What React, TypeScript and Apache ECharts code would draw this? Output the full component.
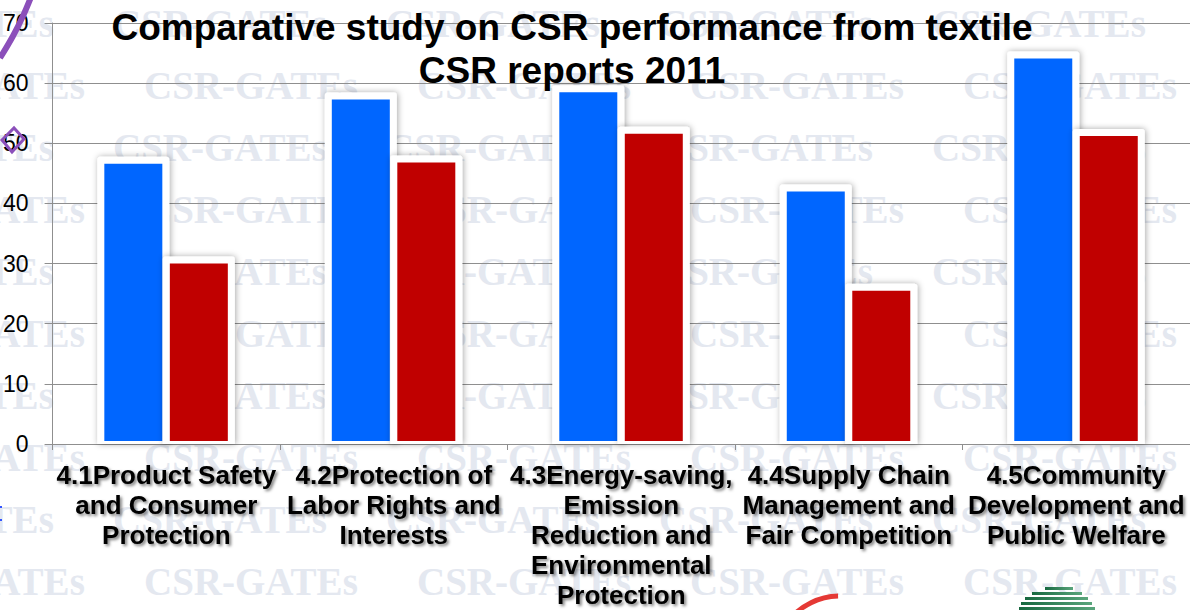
import React, { useEffect, useRef } from "react";
import * as echarts from "echarts";

const categories: string[] = [
  "4.1Product Safety\nand Consumer\nProtection",
  "4.2Protection of\nLabor Rights and\nInterests",
  "4.3Energy-saving,\nEmission\nReduction and\nEnvironmental\nProtection",
  "4.4Supply Chain\nManagement and\nFair Competition",
  "4.5Community\nDevelopment and\nPublic Welfare",
];
const blueValues: number[] = [46.6, 57.3, 58.5, 42.0, 64.1];
const redValues: number[] = [30.0, 46.8, 51.6, 25.5, 51.2];
const yTicks = { min: 0, max: 70, interval: 10 };
const titleText = "Comparative study on CSR performance from textile\nCSR reports 2011";
const watermarkText = "CSR-GATEs";

const SANS = "'Liberation Sans', Arial, sans-serif";
const SERIF = "'Liberation Serif', 'Times New Roman', serif";

function makeRenderItem(offset: number, color: string) {
  return (params: any, api: any) => {
    const idx = api.value(0);
    const val = api.value(1);
    const top = api.coord([idx, val]);
    const base = api.coord([idx, 0]);
    const cx = top[0] + offset;
    const halfW = 29;
    const pad = 7;
    return {
      type: "group",
      children: [
        {
          type: "rect",
          shape: {
            x: cx - halfW - pad,
            y: top[1] - pad,
            width: 2 * (halfW + pad),
            height: base[1] - top[1] + pad,
            r: [3, 3, 0, 0],
          },
          style: {
            fill: "#ffffff",
            shadowBlur: 6,
            shadowColor: "rgba(0,0,0,0.35)",
            shadowOffsetX: 1,
            shadowOffsetY: 0,
          },
        },
        {
          type: "rect",
          shape: {
            x: cx - halfW,
            y: top[1],
            width: 2 * halfW,
            height: base[1] - 3 - top[1],
          },
          style: { fill: color },
        },
      ],
    };
  };
}

function buildWatermark(): any[] {
  const els: any[] = [];
  for (let k = 0; k < 10; k++) {
    const y = 23.5 + 62 * k;
    const startX = k % 2 === 1 ? -129 : -160;
    for (let j = 0; j < 6; j++) {
      els.push({
        type: "text",
        x: startX + 273 * j,
        y,
        z: -10,
        silent: true,
        style: {
          text: watermarkText,
          font: `bold 39px ${SERIF}`,
          fill: "#e4e8f0",
          textAlign: "left",
          textVerticalAlign: "middle",
        },
      });
    }
  }
  return els;
}

function buildDecor(): any[] {
  const els: any[] = [];
  // purple curve at top-left
  els.push({
    type: "polyline",
    z: 20,
    shape: { points: [[31, -3], [23, 16], [13, 36], [0, 58]], smooth: 0.4 },
    style: { stroke: "#8b4fba", lineWidth: 6, fill: "none" },
  });
  // purple diamond
  els.push({
    type: "polygon",
    z: 1,
    shape: { points: [[2, 140], [14, 128], [24, 139], [12, 152]] },
    style: { stroke: "#8b4fba", lineWidth: 3, fill: "none" },
  });
  // blue dots
  els.push({ type: "rect", z: 1, shape: { x: 0, y: 506, width: 2, height: 2 }, style: { fill: "#3355ff" } });
  els.push({ type: "rect", z: 1, shape: { x: 0, y: 519, width: 2, height: 2 }, style: { fill: "#3355ff" } });
  // red arc logo
  els.push({
    type: "arc",
    z: 1,
    shape: { cx: 840, cy: 662, r: 66, startAngle: -2.45, endAngle: -1.6, clockwise: true },
    style: { stroke: "#e53935", lineWidth: 5, fill: "none" },
  });
  // green striped logo
  const stripes = [
    [1045, 587, 28],
    [1032, 592, 50],
    [1025, 597, 63],
    [1021, 602, 71],
    [1019, 607, 76],
  ];
  stripes.forEach(([x, y, w]) => {
    els.push({
      type: "rect",
      z: 1,
      shape: { x, y, width: w, height: 3 },
      style: {
        fill: new echarts.graphic.LinearGradient(0, 0, 1, 0, [
          { offset: 0, color: "#17683f" },
          { offset: 1, color: "#5aa57c" },
        ]),
      },
    });
  });
  return els;
}

export default function App() {
  const ref = useRef<HTMLDivElement>(null);
  useEffect(() => {
    if (!ref.current) return;
    const chart = echarts.init(ref.current, undefined, { renderer: "svg" });
    const option: any = {
      animation: false,
      backgroundColor: "#ffffff",
      title: {
        text: titleText,
        left: 567,
        top: 1,
        textAlign: "center",
        textStyle: {
          fontFamily: SANS,
          fontSize: 37,
          fontWeight: "bold",
          color: "#000000",
          lineHeight: 43,
        },
        z: 10,
      },
      grid: { left: 48, right: 0, top: 23, bottom: 166, containLabel: false },
      xAxis: {
        type: "category",
        data: categories,
        axisLine: { show: true, lineStyle: { color: "#8f8f8f", width: 1 } },
        axisTick: { show: true, length: 6, lineStyle: { color: "#8f8f8f" } },
        axisLabel: {
          interval: 0,
          margin: 16,
          fontFamily: SANS,
          fontSize: 26,
          fontWeight: "bold",
          lineHeight: 30,
          color: "#000000",
          align: "center",
          textShadowColor: "rgba(0,0,0,0.5)",
          textShadowBlur: 3,
          textShadowOffsetX: 2,
          textShadowOffsetY: 2,
        },
      },
      yAxis: {
        type: "value",
        min: yTicks.min,
        max: yTicks.max,
        interval: yTicks.interval,
        axisLine: { show: true, lineStyle: { color: "#8f8f8f", width: 1 } },
        axisTick: { show: true, length: 8, lineStyle: { color: "#8f8f8f" } },
        splitLine: { show: true, lineStyle: { color: "#8f8f8f", width: 1 } },
        axisLabel: {
          margin: 24,
          fontFamily: SANS,
          fontSize: 23,
          color: "#000000",
        },
      },
      series: [
        {
          name: "Blue",
          type: "custom",
          renderItem: makeRenderItem(-33, "#0066ff"),
          encode: { x: 0, y: 1 },
          data: blueValues.map((v, i) => [i, v]),
          z: 3,
        },
        {
          name: "Red",
          type: "custom",
          renderItem: makeRenderItem(32.5, "#c00000"),
          encode: { x: 0, y: 1 },
          data: redValues.map((v, i) => [i, v]),
          z: 4,
        },
      ],
      graphic: { elements: [...buildWatermark(), ...buildDecor()] },
    };
    chart.setOption(option);
    return () => chart.dispose();
  }, []);
  return (
    <div
      ref={ref}
      style={{ position: "fixed", left: 0, top: 0, width: 1190, height: 610 }}
    />
  );
}
